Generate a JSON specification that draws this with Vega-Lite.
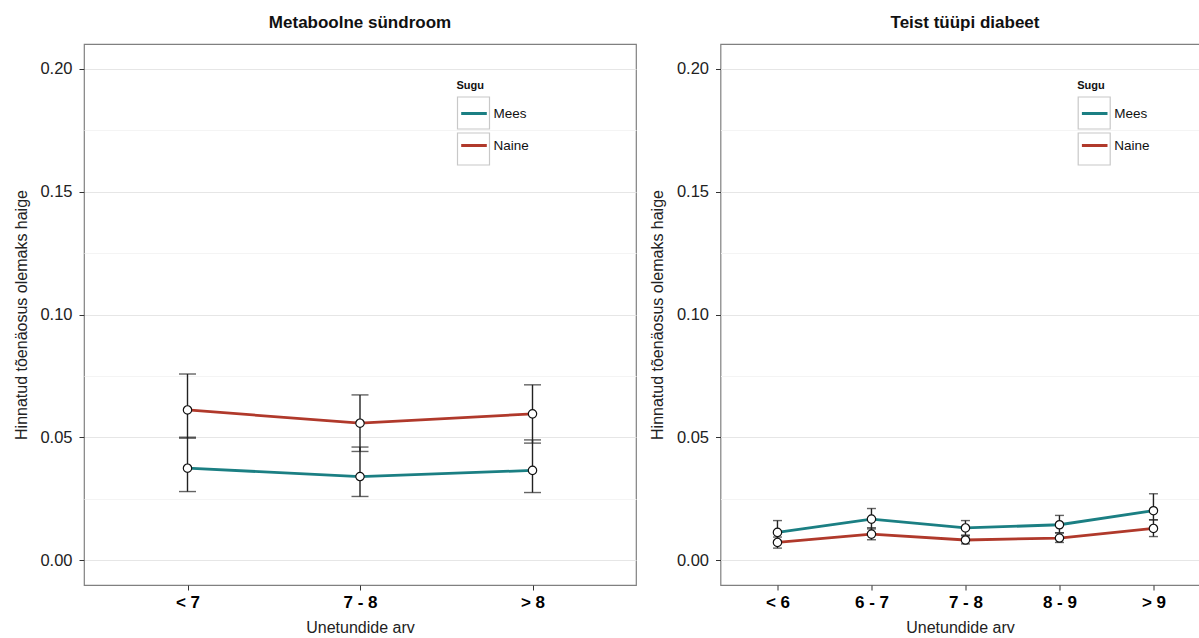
{
  "$schema": "https://vega.github.io/schema/vega-lite/v6.json",
  "padding": {"left": 12, "top": 12, "right": 0, "bottom": 0},
  "background": "white",
  "datasets": {
    "ms": [
      {"cat": "< 7", "Sugu": "Mees", "p": 0.0375, "lo": 0.0280, "hi": 0.0501},
      {"cat": "< 7", "Sugu": "Naine", "p": 0.0612, "lo": 0.0497, "hi": 0.0758},
      {"cat": "7 - 8", "Sugu": "Mees", "p": 0.0341, "lo": 0.0260, "hi": 0.0461},
      {"cat": "7 - 8", "Sugu": "Naine", "p": 0.0558, "lo": 0.0443, "hi": 0.0673},
      {"cat": "> 8", "Sugu": "Mees", "p": 0.0366, "lo": 0.0276, "hi": 0.0490},
      {"cat": "> 8", "Sugu": "Naine", "p": 0.0596, "lo": 0.0477, "hi": 0.0714}
    ],
    "dm": [
      {"cat": "< 6", "Sugu": "Mees", "p": 0.0114, "lo": 0.0075, "hi": 0.0162},
      {"cat": "< 6", "Sugu": "Naine", "p": 0.0073, "lo": 0.0050, "hi": 0.0095},
      {"cat": "6 - 7", "Sugu": "Mees", "p": 0.0168, "lo": 0.0128, "hi": 0.0211},
      {"cat": "6 - 7", "Sugu": "Naine", "p": 0.0107, "lo": 0.0084, "hi": 0.0133},
      {"cat": "7 - 8", "Sugu": "Mees", "p": 0.0132, "lo": 0.0103, "hi": 0.0162},
      {"cat": "7 - 8", "Sugu": "Naine", "p": 0.0083, "lo": 0.0067, "hi": 0.0100},
      {"cat": "8 - 9", "Sugu": "Mees", "p": 0.0145, "lo": 0.0112, "hi": 0.0183},
      {"cat": "8 - 9", "Sugu": "Naine", "p": 0.0091, "lo": 0.0073, "hi": 0.0112},
      {"cat": "> 9", "Sugu": "Mees", "p": 0.0202, "lo": 0.0165, "hi": 0.0271},
      {"cat": "> 9", "Sugu": "Naine", "p": 0.0130, "lo": 0.0097, "hi": 0.0165}
    ]
  },
  "config": {
    "font": "Liberation Sans",
    "view": {"stroke": "#808080", "strokeWidth": 1.2},
    "axis": {
      "domain": false,
      "tickColor": "#333333",
      "tickSize": 5,
      "labelColor": "#222222",
      "titleColor": "#222222",
      "titleFontWeight": "normal",
      "titleFontSize": 16
    },
    "title": {"fontSize": 17, "fontWeight": "bold", "color": "#111111", "anchor": "middle", "frame": "group", "offset": 12.5},
    "legend": {
      "orient": "none",
      "padding": 0,
      "titleFontSize": 11,
      "titleFontWeight": "bold",
      "titleColor": "#111111",
      "labelFontSize": 13.5,
      "labelColor": "#111111",
      "symbolSize": 1024,
      "labelOffset": 2,
      "titlePadding": 5
    }
  },
  "spacing": 11.5,
  "resolve": {"legend": {"color": "independent", "shape": "independent"}},
  "hconcat": [
    {
      "title": {"text": "Metaboolne sündroom"},
      "width": 552,
      "height": 541,
      "data": {"name": "ms"},
      "encoding": {
        "x": {
          "field": "cat",
          "type": "ordinal",
          "scale": {"type": "point", "domain": ["< 7", "7 - 8", "> 8"], "padding": 0.6},
          "axis": {"title": "Unetundide arv", "labelAngle": 0, "labelFontWeight": "bold", "labelFontSize": 17, "labelColor": "#000000", "labelPadding": 4, "gridColor": "#ebebeb", "titlePadding": 9}
        }
      },
      "layer": [
        {
          "mark": {"type": "rule", "color": "#222222", "strokeWidth": 1.4},
          "encoding": {
            "y": {
              "field": "lo",
              "type": "quantitative",
              "title": "Hinnatud tõenäosus olemaks haige",
              "scale": {"domain": [-0.01, 0.21], "nice": false, "zero": false},
              "axis": {
                "values": [0, 0.025, 0.05, 0.075, 0.1, 0.125, 0.15, 0.175, 0.2],
                "labelExpr": "round(datum.value*40) % 2 == 0 ? format(datum.value, '.2f') : ''",
                "labelOverlap": false,
                "labelFontSize": 16.5,
                "labelPadding": 7,
                "tickOpacity": {"condition": {"test": "round(datum.value*40) % 2 == 1", "value": 0}, "value": 1},
                "gridColor": {"condition": {"test": "round(datum.value*40) % 2 == 1", "value": "#f4f4f4"}, "value": "#e6e6e6"},
                "titlePadding": 10.5
              }
            },
            "y2": {"field": "hi"},
            "detail": {"field": "Sugu"}
          }
        },
        {
          "mark": {"type": "tick", "orient": "horizontal", "size": 17, "thickness": 1.4, "color": "#222222"},
          "encoding": {"y": {"field": "lo", "type": "quantitative", "title": "Hinnatud tõenäosus olemaks haige"}}
        },
        {
          "mark": {"type": "tick", "orient": "horizontal", "size": 17, "thickness": 1.4, "color": "#222222"},
          "encoding": {"y": {"field": "hi", "type": "quantitative", "title": "Hinnatud tõenäosus olemaks haige"}}
        },
        {
          "mark": {"type": "line", "strokeWidth": 2.8},
          "encoding": {
            "y": {"field": "p", "type": "quantitative", "title": "Hinnatud tõenäosus olemaks haige"},
            "color": {
              "field": "Sugu",
              "type": "nominal",
              "scale": {"domain": ["Mees", "Naine"], "range": ["#1b7f83", "#b0392b"]},
              "legend": {"title": "Sugu", "legendX": 372.5, "legendY": 36, "symbolType": "M-0.8,0H0.8", "symbolStrokeWidth": 3, "rowPadding": 8}
            }
          }
        },
        {
          "mark": {"type": "point", "shape": "square", "filled": false, "stroke": "#c8c8c8", "strokeWidth": 1.2, "size": 4, "opacity": 1},
          "encoding": {
            "y": {"field": "p", "type": "quantitative", "title": "Hinnatud tõenäosus olemaks haige"},
            "shape": {
              "field": "Sugu",
              "type": "nominal",
              "scale": {"domain": ["Naine", "Mees"], "range": ["square", "square"]},
              "legend": {"title": "Sugu", "legendX": 372.5, "legendY": 36, "titleColor": "transparent", "labelExpr": "''", "symbolStrokeColor": "#c8c8c8", "symbolFillColor": "transparent", "symbolStrokeWidth": 1.2, "rowPadding": -6}
            }
          }
        },
        {
          "mark": {"type": "point", "filled": true, "fill": "white", "stroke": "#111111", "strokeWidth": 1.2, "size": 70, "opacity": 1},
          "encoding": {"y": {"field": "p", "type": "quantitative", "title": "Hinnatud tõenäosus olemaks haige"}}
        }
      ]
    },
    {
      "title": {"text": "Teist tüüpi diabeet", "dx": 5},
      "width": 479,
      "height": 541,
      "data": {"name": "dm"},
      "encoding": {
        "x": {
          "field": "cat",
          "type": "ordinal",
          "scale": {"type": "point", "domain": ["< 6", "6 - 7", "7 - 8", "8 - 9", "> 9"], "padding": 0.548, "align": 0.553},
          "axis": {"title": "Unetundide arv", "labelAngle": 0, "labelFontWeight": "bold", "labelFontSize": 17, "labelColor": "#000000", "labelPadding": 4, "gridColor": "#ebebeb", "titlePadding": 9}
        }
      },
      "layer": [
        {
          "mark": {"type": "rule", "color": "#222222", "strokeWidth": 1.4},
          "encoding": {
            "y": {
              "field": "lo",
              "type": "quantitative",
              "title": "Hinnatud tõenäosus olemaks haige",
              "scale": {"domain": [-0.01, 0.21], "nice": false, "zero": false},
              "axis": {
                "values": [0, 0.025, 0.05, 0.075, 0.1, 0.125, 0.15, 0.175, 0.2],
                "labelExpr": "round(datum.value*40) % 2 == 0 ? format(datum.value, '.2f') : ''",
                "labelOverlap": false,
                "labelFontSize": 16.5,
                "labelPadding": 7,
                "tickOpacity": {"condition": {"test": "round(datum.value*40) % 2 == 1", "value": 0}, "value": 1},
                "gridColor": {"condition": {"test": "round(datum.value*40) % 2 == 1", "value": "#f4f4f4"}, "value": "#e6e6e6"},
                "titlePadding": 10.5
              }
            },
            "y2": {"field": "hi"},
            "detail": {"field": "Sugu"}
          }
        },
        {
          "mark": {"type": "tick", "orient": "horizontal", "size": 9, "thickness": 1.4, "color": "#222222"},
          "encoding": {"y": {"field": "lo", "type": "quantitative", "title": "Hinnatud tõenäosus olemaks haige"}}
        },
        {
          "mark": {"type": "tick", "orient": "horizontal", "size": 9, "thickness": 1.4, "color": "#222222"},
          "encoding": {"y": {"field": "hi", "type": "quantitative", "title": "Hinnatud tõenäosus olemaks haige"}}
        },
        {
          "mark": {"type": "line", "strokeWidth": 2.8},
          "encoding": {
            "y": {"field": "p", "type": "quantitative", "title": "Hinnatud tõenäosus olemaks haige"},
            "color": {
              "field": "Sugu",
              "type": "nominal",
              "scale": {"domain": ["Mees", "Naine"], "range": ["#1b7f83", "#b0392b"]},
              "legend": {"title": "Sugu", "legendX": 356.7, "legendY": 36, "symbolType": "M-0.8,0H0.8", "symbolStrokeWidth": 3, "rowPadding": 8}
            }
          }
        },
        {
          "mark": {"type": "point", "shape": "square", "filled": false, "stroke": "#c8c8c8", "strokeWidth": 1.2, "size": 4, "opacity": 1},
          "encoding": {
            "y": {"field": "p", "type": "quantitative", "title": "Hinnatud tõenäosus olemaks haige"},
            "shape": {
              "field": "Sugu",
              "type": "nominal",
              "scale": {"domain": ["Naine", "Mees"], "range": ["square", "square"]},
              "legend": {"title": "Sugu", "legendX": 356.7, "legendY": 36, "titleColor": "transparent", "labelExpr": "''", "symbolStrokeColor": "#c8c8c8", "symbolFillColor": "transparent", "symbolStrokeWidth": 1.2, "rowPadding": -6}
            }
          }
        },
        {
          "mark": {"type": "point", "filled": true, "fill": "white", "stroke": "#111111", "strokeWidth": 1.2, "size": 70, "opacity": 1},
          "encoding": {"y": {"field": "p", "type": "quantitative", "title": "Hinnatud tõenäosus olemaks haige"}}
        }
      ]
    }
  ]
}
